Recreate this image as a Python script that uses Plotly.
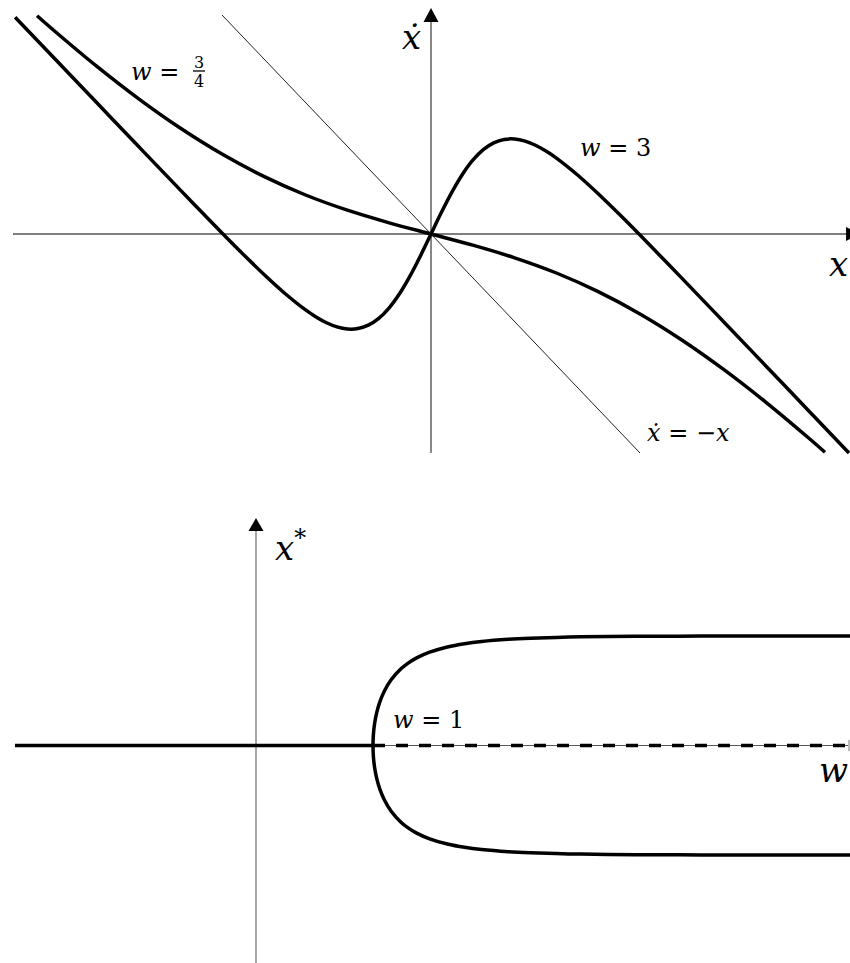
import plotly.graph_objects as go

W, H = 850, 963

# ---- top panel: xdot = -x + tanh(w x) for two gains ----
x_w3 = [-1.99, -1.8, -1.6, -1.4, -1.2, -1.0, -0.9, -0.8, -0.7, -0.6, -0.55, -0.5,
        -0.45, -0.4, -0.35, -0.3, -0.25, -0.2, -0.15, -0.1, -0.05, 0.0,
        0.05, 0.1, 0.15, 0.2, 0.25, 0.3, 0.35, 0.4, 0.45, 0.5, 0.55, 0.6,
        0.7, 0.8, 0.9, 1.0, 1.2, 1.4, 1.6, 1.8, 2.0]
xdot_w3 = [0.99, 0.8, 0.6001, 0.4004, 0.2015, 0.0049, -0.0910, -0.1837, -0.2705,
           -0.3468, -0.3788, -0.4052, -0.4241, -0.4337, -0.4318, -0.4163, -0.3852,
           -0.3370, -0.2719, -0.1913, -0.0989, 0.0,
           0.0989, 0.1913, 0.2719, 0.3370, 0.3852, 0.4163, 0.4318, 0.4337, 0.4241,
           0.4052, 0.3788, 0.3468, 0.2705, 0.1837, 0.0910, -0.0049, -0.2015,
           -0.4004, -0.6001, -0.8, -1.0]

x_w34 = [-1.885, -1.8, -1.6, -1.4, -1.2, -1.0, -0.8, -0.6, -0.4, -0.2, 0.0,
         0.2, 0.4, 0.6, 0.8, 1.0, 1.2, 1.4, 1.6, 1.8, 1.885]
xdot_w34 = [0.9967, 0.9260, 0.7664, 0.6182, 0.4837, 0.3649, 0.2630, 0.1781, 0.1087,
            0.0511, 0.0, -0.0511, -0.1087, -0.1781, -0.2630, -0.3649, -0.4837,
            -0.6182, -0.7664, -0.9260, -0.9967]

x_ref = [-1.0, 1.0]
xdot_ref = [1.0, -1.0]

# ---- bottom panel: fixed points x* versus gain w ----
w_zero_stable = [-2.06, 1.0]
w_zero_unstable = [1.0, 5.1]
w_branch = [1.0, 1.00335, 1.01366, 1.03173, 1.05912, 1.09861, 1.15525, 1.23900,
            1.29727, 1.37327, 1.47783, 1.63580, 1.78282, 1.92819, 2.15701,
            2.34445, 2.67339, 3.00920, 3.46030, 3.80400, 4.4, 5.1]
xstar_branch = [0.0, 0.1, 0.2, 0.3, 0.4, 0.5, 0.6, 0.7, 0.75, 0.8, 0.85, 0.9,
                0.93, 0.95, 0.97, 0.98, 0.99, 0.995, 0.998, 0.999, 0.9997, 0.99993]

SERIF = "DejaVu Serif, Liberation Serif, serif"
THICK = 3.5


def px(v):
    return v / W


def py(v):
    return 1 - v / H


fig = go.Figure()

# top panel curves
fig.add_trace(go.Scatter(x=x_ref, y=xdot_ref, mode="lines",
                         line=dict(color="#222222", width=1), xaxis="x", yaxis="y"))
fig.add_trace(go.Scatter(x=x_w34, y=xdot_w34, mode="lines", line_shape="spline",
                         line=dict(color="black", width=THICK), xaxis="x", yaxis="y"))
fig.add_trace(go.Scatter(x=x_w3, y=xdot_w3, mode="lines", line_shape="spline",
                         line=dict(color="black", width=THICK), xaxis="x", yaxis="y"))

# bottom panel: zero branch (solid while stable, dashed once unstable)
fig.add_trace(go.Scatter(x=w_zero_stable, y=[0, 0], mode="lines",
                         line=dict(color="black", width=THICK), xaxis="x2", yaxis="y2"))
fig.add_trace(go.Scatter(x=w_zero_unstable, y=[0, 0], mode="lines",
                         line=dict(color="black", width=THICK, dash="12px,11px"),
                         xaxis="x2", yaxis="y2"))
# symmetric pair of nonzero fixed points, joined through w = 1
w_pitch = w_branch[::-1] + w_branch[1:]
x_pitch = [-v for v in xstar_branch[::-1]] + xstar_branch[1:]
fig.add_trace(go.Scatter(x=w_pitch, y=x_pitch, mode="lines", line_shape="spline",
                         line=dict(color="black", width=THICK), xaxis="x2", yaxis="y2"))

shapes = [
    # top panel axes
    dict(type="line", xref="x", yref="y", x0=-2.0, x1=2.1, y0=0, y1=0,
         line=dict(color="black", width=1.2), layer="below"),
    dict(type="line", xref="x", yref="y", x0=0, x1=0, y0=-1.0, y1=0.97,
         line=dict(color="#888888", width=2), layer="below"),
    dict(type="path", xref="x", yref="y", xsizemode="pixel", ysizemode="pixel",
         xanchor=0, yanchor=1.032, path="M0,0 L-7.5,-14 L7.5,-14 Z",
         fillcolor="black", line=dict(width=0)),
    dict(type="path", xref="x", yref="y", xsizemode="pixel", ysizemode="pixel",
         xanchor=2.005, yanchor=0, path="M-4,7 L10,0 L-4,-7 Z",
         fillcolor="black", line=dict(width=0)),
    # bottom panel axes
    dict(type="line", xref="x2", yref="y2", x0=-2.06, x1=5.1, y0=0, y1=0,
         line=dict(color="#555555", width=1), layer="below"),
    dict(type="line", xref="x2", yref="y2", x0=0, x1=0, y0=-1.99, y1=1.96,
         line=dict(color="#777777", width=1.3), layer="below"),
    dict(type="path", xref="x2", yref="y2", xsizemode="pixel", ysizemode="pixel",
         xanchor=0, yanchor=2.078, path="M0,0 L-7.5,-13 L7.5,-13 Z",
         fillcolor="black", line=dict(width=0)),
    dict(type="path", xref="x2", yref="y2", xsizemode="pixel", ysizemode="pixel",
         xanchor=5.077, yanchor=0, path="M-2,6 L12,0 L-2,-6 Z",
         fillcolor="#bbbbbb", line=dict(width=0)),
    # fraction bar in the w = 3/4 label
    dict(type="line", xref="paper", yref="paper", x0=px(193), x1=px(205),
         y0=py(71), y1=py(71), line=dict(color="black", width=1.3)),
]


def label(text, x, y, size):
    return dict(text=text, x=px(x), y=py(y), xref="paper", yref="paper",
                xanchor="center", yanchor="middle", showarrow=False,
                font=dict(family=SERIF, size=size, color="black"))


annotations = [
    label("<i>w</i>\u00a0=", 155, 72, 24),
    label("3", 199, 62, 16),
    label("4", 199, 82, 16),
    label("<i>w</i>\u00a0=\u00a03", 615, 148, 24),
    label("<i>\u1e8b</i>\u00a0=\u00a0\u2212<i>x</i>", 688, 433, 24),
    label("<i>\u1e8b</i>", 411, 37, 34),
    label("<i>x</i>", 838, 264, 34),
    label("<i>x</i><sup>*</sup>", 290, 546, 34),
    label("<i>w</i>\u00a0=\u00a01", 428, 720, 24),
    label("<i>w</i>", 833, 770, 34),
]

top_dom = [1 - 480 / H, 1]
bot_dom = [0, 1 - 480 / H]

fig.update_layout(
    width=W, height=H,
    margin=dict(l=0, r=0, t=0, b=0),
    paper_bgcolor="white", plot_bgcolor="white",
    showlegend=False,
    xaxis=dict(domain=[0, 1], range=[-431 / 209, 419 / 209], visible=False,
               anchor="y"),
    yaxis=dict(domain=top_dom, range=[(234 - 480) / 219, 234 / 219], visible=False,
               anchor="x"),
    xaxis2=dict(domain=[0, 1], range=[-256 / 117, 594 / 117], visible=False,
                anchor="y2"),
    yaxis2=dict(domain=bot_dom, range=[(745.5 - 963) / 109.5, (745.5 - 480) / 109.5],
                visible=False, anchor="x2"),
    shapes=shapes,
    annotations=annotations,
)

fig.write_html("out.html")
